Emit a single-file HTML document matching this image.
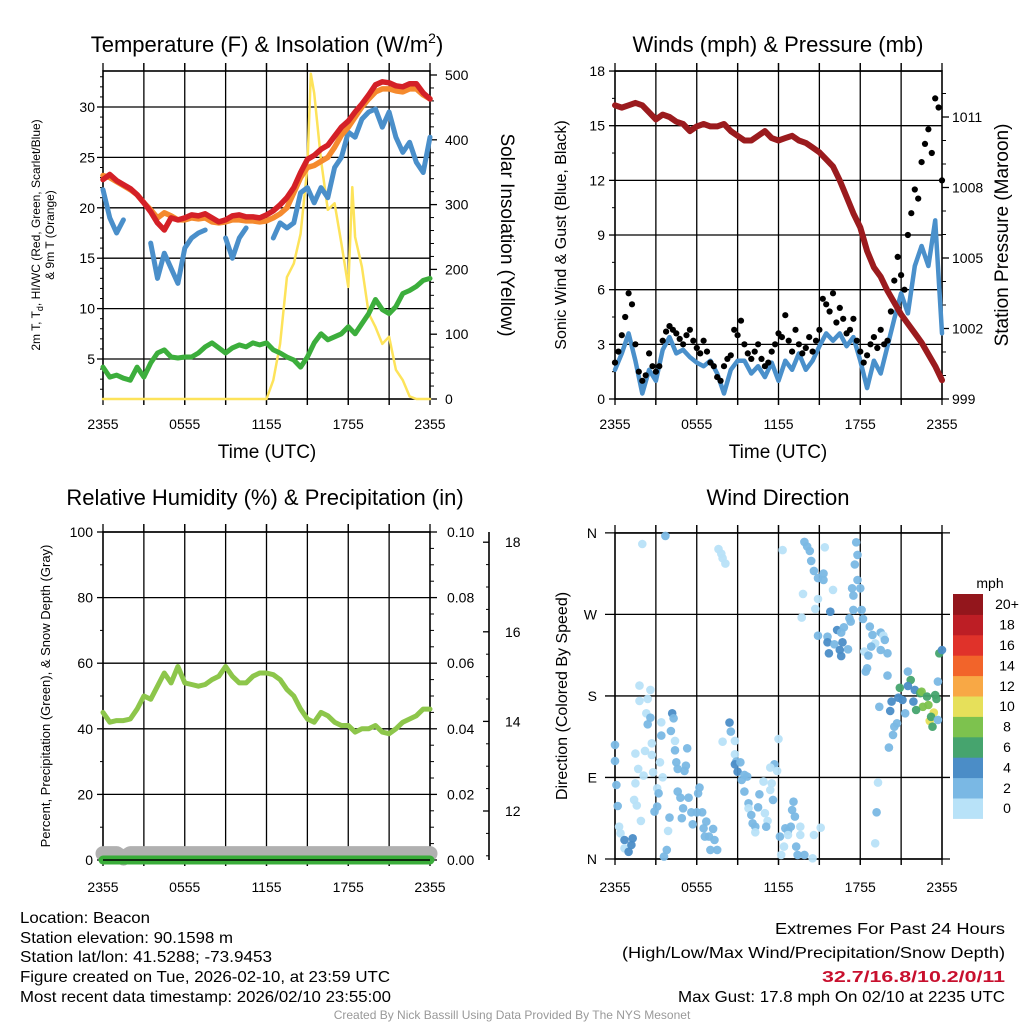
<!DOCTYPE html>
<html><head><meta charset="utf-8"><title>Mesonet Meteogram - Beacon</title>
<style>
html,body{margin:0;padding:0;background:#fff;}
svg{display:block;font-family:"Liberation Sans",Arial,sans-serif;}
</style></head>
<body>
<svg id="fig" width="1024" height="1024" viewBox="0 0 1024 1024" xmlns="http://www.w3.org/2000/svg">
<rect x="0" y="0" width="1024" height="1024" fill="#fff"/>
<!-- Titles -->
<text x="267" y="52" font-size="22" text-anchor="middle">Temperature (F) &amp; Insolation (W/m<tspan font-size="14" dy="-9">2</tspan><tspan dy="9">)</tspan></text>
<text x="778" y="52" font-size="22" text-anchor="middle">Winds (mph) &amp; Pressure (mb)</text>
<text x="265" y="505" font-size="22" text-anchor="middle">Relative Humidity (%) &amp; Precipitation (in)</text>
<text x="778" y="505" font-size="22" text-anchor="middle">Wind Direction</text>
<!-- Axis titles -->
<text transform="translate(40,235) rotate(-90)" font-size="12" text-anchor="middle">2m T, T<tspan font-size="9" dy="3">d</tspan><tspan dy="-3">, HI/WC (Red, Green, Scarlet/Blue)</tspan></text>
<text transform="translate(54,235) rotate(-90)" font-size="12" text-anchor="middle">&amp; 9m T (Orange)</text>
<text transform="translate(501,235) rotate(90)" font-size="19" text-anchor="middle">Solar Insolation (Yellow)</text>
<text x="267" y="458" font-size="19" text-anchor="middle">Time (UTC)</text>
<text transform="translate(566,235) rotate(-90)" font-size="16" text-anchor="middle">Sonic Wind &amp; Gust (Blue, Black)</text>
<text transform="translate(1008,235) rotate(-90)" font-size="19" text-anchor="middle">Station Pressure (Maroon)</text>
<text x="778" y="458" font-size="19" text-anchor="middle">Time (UTC)</text>
<text transform="translate(50,696) rotate(-90)" font-size="13" text-anchor="middle">Percent, Precipitation (Green), &amp; Snow Depth (Gray)</text>
<text transform="translate(567,696) rotate(-90)" font-size="16" text-anchor="middle">Direction (Colored By Speed)</text>
<!-- Footer text -->
<g font-size="16">
<text x="20" y="923" textLength="130" lengthAdjust="spacingAndGlyphs">Location: Beacon</text>
<text x="20" y="943" textLength="213" lengthAdjust="spacingAndGlyphs">Station elevation: 90.1598 m</text>
<text x="20" y="962" textLength="252" lengthAdjust="spacingAndGlyphs">Station lat/lon: 41.5288; -73.9453</text>
<text x="20" y="982" textLength="370" lengthAdjust="spacingAndGlyphs">Figure created on Tue, 2026-02-10, at 23:59 UTC</text>
<text x="20" y="1002" textLength="371" lengthAdjust="spacingAndGlyphs">Most recent data timestamp: 2026/02/10 23:55:00</text>
</g>
<g font-size="16" text-anchor="end">
<text x="1005" y="934" textLength="230" lengthAdjust="spacingAndGlyphs">Extremes For Past 24 Hours</text>
<text x="1005" y="958" textLength="383" lengthAdjust="spacingAndGlyphs">(High/Low/Max Wind/Precipitation/Snow Depth)</text>
<text x="1005" y="982" fill="#c8102e" font-weight="bold" textLength="183" lengthAdjust="spacingAndGlyphs">32.7/16.8/10.2/0/11</text>
<text x="1005" y="1002" textLength="327" lengthAdjust="spacingAndGlyphs">Max Gust: 17.8 mph On 02/10 at 2235 UTC</text>
</g>
<text x="512" y="1019" font-size="12" fill="#999" text-anchor="middle">Created By Nick Bassill Using Data Provided By The NYS Mesonet</text>
<g id="layer"></g>
</svg>
<script>
// ---------- DATA ----------
const hours = [0,0.5,1,1.5,2,2.5,3,3.5,4,4.5,5,5.5,6,6.5,7,7.5,8,8.5,9,9.5,10,10.5,11,11.5,12,12.5,13,13.5,14,14.5,15,15.5,16,16.5,17,17.5,18,18.5,19,19.5,20,20.5,21,21.5,22,22.5,23,23.5,24];
const timeTickLabels = ["2355","0555","1155","1755","2355"];
const tempRed = [22.8,23.3,22.7,22.3,21.9,21.3,20.5,19.6,18.5,17.8,19.0,18.8,19.0,19.3,19.2,19.4,19.0,18.6,18.8,19.2,19.3,19.1,19.1,19.0,19.3,19.7,20.3,21.0,22.0,23.5,24.8,25.2,25.8,26.2,27.1,28.0,28.6,29.5,30.3,31.2,32.2,32.5,32.4,32.1,32.0,32.3,32.3,31.4,30.8];
const tempOrange = [23.2,23.0,22.6,22.2,21.8,21.3,20.5,19.8,19.0,19.5,19.2,18.8,18.8,19.0,18.9,19.0,18.6,18.5,18.6,18.8,18.8,18.7,18.7,18.6,18.7,19.0,19.4,20.0,21.5,23.0,24.0,24.2,24.6,25.0,26.0,27.2,28.0,29.0,30.0,30.8,31.5,31.8,31.8,31.6,31.5,31.8,31.8,31.2,30.8];
const windChill = [21.8,19.0,17.5,18.8,null,null,null,16.5,13.0,15.5,14.0,12.5,16.0,17.0,17.5,17.8,null,null,17.0,15.0,17.0,18.0,null,null,null,17.0,18.5,18.0,18.5,21.5,22.0,20.5,22.0,21.0,24.0,25.0,27.5,27.0,28.8,29.5,29.8,28.0,29.5,27.0,25.5,26.5,24.5,23.5,27.0];
const dewPoint = [4.2,3.2,3.4,3.1,2.9,4.2,3.2,4.6,5.6,5.9,5.2,5.1,5.2,5.2,5.6,6.2,6.6,6.1,5.6,6.1,6.4,6.2,6.6,6.4,6.6,5.9,5.6,5.2,4.9,4.2,5.2,6.6,7.5,6.9,7.2,7.5,8.2,7.5,8.5,9.5,10.9,9.9,9.5,10.2,11.5,11.8,12.2,12.8,13.0];
const tempTicks = [5,10,15,20,25,30];
const solarHours = [0,12,12.5,13,13.5,14,14.5,15,15.25,15.5,16,16.5,17,17.5,18,18.3,18.5,19,19.5,20,20.5,21,21.5,22,22.5,23,24];
const solarVals = [0,0,29,85,188,209,255,358,502,472,369,292,302,240,173,327,250,204,132,111,85,96,45,29,4,0,0];
const solarTicks = [0,100,200,300,400,500];

const windSpeed = [1.6,2.5,3.6,2.1,0.3,1.6,1.0,2.7,3.4,2.5,2.7,2.3,2.0,1.8,2.1,1.4,0.3,1.6,2.1,2.1,1.4,1.8,1.2,2.0,1.0,2.1,1.6,2.5,1.6,2.1,2.9,3.6,3.2,3.6,2.9,3.4,2.1,0.6,2.1,1.4,2.9,4.4,5.8,4.7,7.3,8.4,7.3,9.8,3.6];
const gustHours = [0,0.25,0.5,0.75,1,1.25,1.5,1.75,2,2.25,2.5,2.75,3,3.25,3.5,3.75,4,4.25,4.5,4.75,5,5.25,5.5,5.75,6,6.25,6.5,6.75,7,7.25,7.5,7.75,8,8.25,8.5,8.75,9,9.25,9.5,9.75,10,10.25,10.5,10.75,11,11.25,11.5,11.75,12,12.25,12.5,12.75,13,13.25,13.5,13.75,14,14.25,14.5,14.75,15,15.25,15.5,15.75,16,16.25,16.5,16.75,17,17.25,17.5,17.75,18,18.25,18.5,18.75,19,19.25,19.5,19.75,20,20.25,20.5,20.75,21,21.25,21.5,21.75,22,22.25,22.5,22.75,23,23.25,23.5,23.75,24];
const gustVals = [2.0,2.6,3.5,4.5,5.8,5.2,3.0,1.5,1.0,1.3,2.5,1.8,1.5,1.8,3.2,3.7,4.0,3.8,3.6,3.3,3.0,3.5,3.8,3.2,2.8,2.5,3.2,2.6,2.0,1.8,1.2,1.0,1.8,2.2,2.4,3.8,3.5,4.3,3.0,2.5,2.2,2.6,3.0,2.2,1.8,2.0,2.6,3.0,3.6,3.4,4.6,3.2,2.6,3.8,3.0,2.5,2.8,3.4,2.6,3.2,3.8,5.5,5.2,4.8,5.8,4.2,5.0,4.4,3.6,3.8,4.4,3.2,2.6,2.0,2.4,3.0,3.4,2.8,3.8,3.0,3.2,4.8,6.5,7.8,6.8,6.0,9.0,10.2,11.5,11.0,13.0,14.0,14.8,13.5,16.5,16.0,12.0];
const pressure = [1011.5,1011.4,1011.5,1011.6,1011.5,1011.2,1010.9,1011.1,1011.0,1010.8,1010.7,1010.4,1010.6,1010.7,1010.6,1010.6,1010.7,1010.4,1010.2,1010.0,1010.0,1010.2,1010.4,1010.1,1010.0,1010.1,1010.2,1010.0,1009.9,1009.7,1009.5,1009.2,1008.9,1008.3,1007.6,1006.9,1006.3,1005.3,1004.6,1004.2,1003.6,1003.1,1002.6,1002.2,1001.8,1001.4,1000.9,1000.4,999.8];
const windTicks = [0,3,6,9,12,15,18];
const pressureTicks = [999,1002,1005,1008,1011];

const rhVals = [45,42,42.5,42.5,43,46,50,49,53,57,54,59,54,53.5,53,53.5,55,56,59,56,54,54,56,57,57,56.5,55,52,50,46,43,42,45,44,42,41,41,39,40,40,41,39,38.5,40,42,43,44,46,46];
const precipVals = [0,0,0,0,0,0,0,0,0,0,0,0,0,0,0,0,0,0,0,0,0,0,0,0,0,0,0,0,0,0,0,0,0,0,0,0,0,0,0,0,0,0,0,0,0,0,0,0,0];
const snowVals = [11.05,11.05,11.05,10.95,11.05,11.05,11.05,11.05,11.05,11.05,11.05,11.05,11.05,11.05,11.05,11.05,11.05,11.05,11.05,11.05,11.05,11.05,11.05,11.05,11.05,11.05,11.05,11.05,11.05,11.05,11.05,11.05,11.05,11.05,11.05,11.05,11.05,11.05,11.05,11.05,11.05,11.05,11.05,11.05,11.05,11.05,11.05,11.05,11.05];
const rhTicks = [0,20,40,60,80,100];
const precipTickLabels = ["0.00","0.02","0.04","0.06","0.08","0.10"];
const snowTicks = [12,14,16,18];

const dirHours = [2.0,3.7,7.6,7.8,7.9,8.1,12.3,13.9,14.1,14.3,14.4,14.6,14.9,15.4,15.3,15.3,16.0,14.9,14.7,13.8,13.7,17.7,17.8,17.6,17.8,18.0,17.4,17.5,15.8,17.5,17.2,17.3,18.2,18.1,16.3,16.8,16.6,15.6,14.9,15.6,16.1,16.7,17.1,16.5,15.7,16.6,18.7,18.9,19.1,18.8,19.5,19.7,19.8,19.5,20.0,18.3,18.6,18.5,18.4,20.0,21.5,21.7,20.9,21.5,20.8,20.3,21.1,21.9,22.0,22.4,22.5,22.9,22.6,23.0,22.1,23.5,23.6,23.7,23.8,24.0,23.4,23.1,23.2,23.3,23.7,21.3,19.4,20.2,20.5,20.4,20.1,20.7,19.3,19.2,19.1,1.8,2.6,1.8,2.4,2.3,2.6,2.4,3.4,4.2,4.3,4.1,3.4,4.4,4.4,2.7,2.2,1.5,2.7,3.3,1.7,2.1,2.8,3.5,4.5,4.6,5.2,5.3,5.1,1.5,3.1,3.2,4.6,4.8,5.4,6.1,6.2,5.0,5.6,6.0,4.9,5.7,6.4,6.7,6.5,7.2,6.9,6.6,7.3,7.5,7.0,4.0,3.9,3.8,3.6,3.1,2.9,1.4,1.6,1.9,0.3,0.4,0.2,0.1,0.0,0.0,0.7,0.7,1.2,1.0,1.3,8.4,8.5,7.9,8.8,8.8,8.9,8.8,9.2,9.0,9.5,9.7,9.3,9.5,9.8,9.8,10.0,10.1,10.3,10.5,10.6,10.9,11.5,11.4,11.6,11.0,11.2,11.1,10.3,11.7,11.9,11.4,12.0,12.1,12.5,12.7,12.9,13.1,13.0,13.2,12.7,13.3,13.6,13.6,13.9,14.5,13.4,12.4,12.2,14.6,15.1];
const dirVals = [347.7,356.6,342,337,332,326,341,350,345,340,329,318,310,344,315,308,297,287,276,292.6,266.4,349.6,335.6,325,308,298.8,298.8,290.7,273,275,265.7,262,265,275,252.8,255.7,249.9,245.4,246.5,239.2,237,239.2,231.5,230.7,227,224,256.5,247.3,238,234.4,250,246.5,241.8,230.7,227,229,224.5,210.5,206.8,202.4,206.8,197.6,189,191,178,173.7,175.5,173.7,186.6,183,184.7,179.2,168,170,164.5,181,176.6,195.8,227,230.7,161.6,152.4,157,146,153.5,160.8,168,163.4,146,137,123,149.8,84.3,51.6,17.3,191.4,186.6,174.5,176.7,160.8,156,148.7,150.9,160.8,155.3,141.3,136.2,130.3,120,127.7,119.3,116.3,114.9,106.7,99.4,92,95.7,90.2,106.7,99.4,103,122.2,97.2,83.6,78,72.5,74.4,67.7,67.7,72.5,78.8,56,51.6,51.6,45,38.3,51.6,41.3,33.9,33.2,24.7,24.7,21,10,10,45.7,31,10,2.6,57.8,52.3,65.2,59,42,35.7,28.4,58.5,81.7,108.2,125.9,21,11.8,15.5,8,22.9,150.5,140.6,129.5,130.3,115.6,107.5,104.5,106.7,96.4,92.8,91,87.2,74.4,61.5,56,48.6,39.4,35.7,57.1,71.4,85.4,83.6,76.2,65.2,50.5,42,35.7,29.5,104.5,97.2,100.9,132.5,24.7,33.9,31,35.7,63.3,54.1,46.8,26.5,13.7,35.7,26.5,4.5,0.8,4.5,13.7,4.5,26.5,34.6];
const dirSpeeds = [1,3,1,1,1,1,1,3,3,3,3,3,3,1,3,3,1,1,1,1,1,3,3,3,3,3,3,3,5,3,3,3,3,3,5,3,3,3,3,5,3,5,3,5,5,5,3,3,1,3,3,1,3,3,3,1,3,3,3,3,3,7,7,5,5,5,5,5,5,7,9,7,9,9,7,7,7,3,7,5,11,11,7,7,3,3,3,5,3,3,3,3,1,3,1,1,1,1,1,1,3,3,1,5,3,3,3,1,3,1,1,1,1,1,1,1,1,1,3,3,3,3,3,1,1,3,3,3,3,3,3,3,3,3,3,3,3,3,3,3,3,3,3,3,3,3,1,3,3,3,3,1,1,1,1,1,3,3,3,3,5,1,5,5,5,5,3,1,1,1,3,5,3,5,3,3,3,3,3,1,3,3,3,3,3,1,1,1,3,1,1,3,1,3,1,1,1,3,3,3,3,3,3,3,1,3,1,1,3,1,3,1,1,1,1,1];
const dirTickLabels = ["N","E","S","W","N"];
const dirTicks = [0,90,180,270,360];
const speedBins = ["0","2","4","6","8","10","12","14","16","18","20+"];
const speedColors = ["#b8e2f8","#7ab8e4","#4b8dc7","#46a46e","#7dc24e","#e6e05a","#f8a845","#f2642a","#e0322a","#bd1e25","#93161c"];

// ---------- HELPERS ----------
const NS = "http://www.w3.org/2000/svg";
const layer = document.getElementById("layer");
function el(tag, parent) { const e = document.createElementNS(NS, tag); (parent || layer).appendChild(e); return e; }
function line(x1,y1,x2,y2,stroke,w,parent){ const l = el("line",parent); l.setAttribute("x1",x1); l.setAttribute("y1",y1); l.setAttribute("x2",x2); l.setAttribute("y2",y2); l.setAttribute("stroke",stroke); l.setAttribute("stroke-width",w); return l; }
function txt(x,y,s,size,anchor,parent){ const t = el("text",parent); t.setAttribute("x",x); t.setAttribute("y",y); t.setAttribute("font-size",size); t.setAttribute("text-anchor",anchor); t.textContent = s; return t; }
function pathD(xs, ys, xf, yf){ let d=""; let pen=false; for(let i=0;i<xs.length;i++){ if(ys[i]===null){pen=false;continue;} d += (pen?"L":"M") + xf(xs[i]).toFixed(1) + "," + yf(ys[i]).toFixed(1); pen=true; } return d; }
function series(xs, ys, xf, yf, color, w, parent){ const p = el("path",parent); p.setAttribute("d", pathD(xs,ys,xf,yf)); p.setAttribute("fill","none"); p.setAttribute("stroke",color); p.setAttribute("stroke-width",w); p.setAttribute("stroke-linejoin","round"); p.setAttribute("stroke-linecap","round"); return p; }

function frame(x0,y0,x1,y1,parent){
  for(let k=1;k<8;k++){ const x = x0 + (x1-x0)*k/8; const g = line(x,y0-8,x,y1+6,"#000",1.3,parent);   }
  const r = el("rect",parent); r.setAttribute("x",x0); r.setAttribute("y",y0); r.setAttribute("width",x1-x0); r.setAttribute("height",y1-y0); r.setAttribute("fill","none"); r.setAttribute("stroke","#000"); r.setAttribute("stroke-width",1.6);
  
  
  for(let k=0;k<=8;k++){ const x = x0 + (x1-x0)*k/8; line(x,y1,x,y1+6,"#000",1.3,parent); line(x,y0,x,y0-8,"#000",1.3,parent); }
}
function xLabels(x0,x1,y,parent){
  timeTickLabels.forEach((s,i)=>{ const t = txt(x0+(x1-x0)*i/4, y, s, 14, "middle", parent);
    
     });
}

// ---------- PANEL 1: Temperature ----------
const p1 = el("g"); 


const P1 = {x0:103,x1:430,y0:71,y1:399};
const x1f = h => P1.x0 + h*(P1.x1-P1.x0)/24;
const yTf = v => 359 - (v-5)*10.08;
const ySf = w => 399 - w*0.648;
frame(P1.x0,P1.y0,P1.x1,P1.y1,p1);
tempTicks.forEach(v=>{ const y=yTf(v); const g=line(P1.x0,y,P1.x1,y,"#000",1.3,p1);   line(P1.x0-6,y,P1.x0,y,"#000",1.3,p1);
  const t=txt(P1.x0-8,y+5,String(v),14,"end",p1);   });
solarTicks.forEach(v=>{ const y=ySf(v); line(P1.x1,y,P1.x1+7,y,"#000",1.3,p1);
  const t=txt(P1.x1+15,y+5,String(v),14,"start",p1);   });
for(let v=2;v<34;v++){ if(v%5){ line(P1.x0-3,yTf(v),P1.x0,yTf(v),"#000",1,p1);} }
for(let v=20;v<500;v+=20){ if(v%100){ line(P1.x1,ySf(v),P1.x1+4,ySf(v),"#000",1,p1);} }
xLabels(P1.x0,P1.x1,429,p1);
let s;
s = series(solarHours, solarVals, x1f, ySf, "#fde35a", 2.5, p1);


s = series(hours, dewPoint, x1f, yTf, "#3cae3c", 5, p1);


s = series(hours, windChill, x1f, yTf, "#4a8fca", 5, p1);


s = series(hours, tempOrange, x1f, yTf, "#f58a2e", 5.5, p1);


s = series(hours, tempRed, x1f, yTf, "#d42027", 5.5, p1);



// ---------- PANEL 2: Winds ----------
const p2 = el("g");


const P2 = {x0:615,x1:942,y0:71,y1:399};
const x2f = h => P2.x0 + h*(P2.x1-P2.x0)/24;
const yWf = v => 399 - v*18.22;
const yPf = p => 399 - (p-999)*23.5;
frame(P2.x0,P2.y0,P2.x1,P2.y1,p2);
windTicks.forEach(v=>{ const y=yWf(v); const g=line(P2.x0,y,P2.x1,y,"#000",1.3,p2);   line(P2.x0-6,y,P2.x0,y,"#000",1.3,p2);
  const t=txt(P2.x0-10,y+5,String(v),14,"end",p2);   });
pressureTicks.forEach(v=>{ const y=yPf(v); line(P2.x1,y,P2.x1+7,y,"#000",1.3,p2);
  const t=txt(P2.x1+10,y+5,String(v),14,"start",p2);   });
for(let v=1.5;v<18;v+=3){ line(P2.x0-3,yWf(v),P2.x0,yWf(v),"#000",1,p2); }
for(let v=1000;v<1012.5;v+=1){ if((v-999)%3){ line(P2.x1,yPf(v),P2.x1+4,yPf(v),"#000",1,p2);} }
xLabels(P2.x0,P2.x1,429,p2);
s = series(hours, windSpeed, x2f, yWf, "#4a90cb", 4.5, p2);


gustHours.forEach((h,i)=>{ const c = el("circle",p2); c.setAttribute("cx",x2f(h).toFixed(1)); c.setAttribute("cy",yWf(gustVals[i]).toFixed(1)); c.setAttribute("r",3.1); c.setAttribute("fill","#000");
  
   });
s = series(hours, pressure, x2f, yPf, "#9b1b1e", 6, p2);



// ---------- PANEL 3: Humidity ----------
const p3 = el("g");


const P3 = {x0:103,x1:430,y0:532,y1:860};
const x3f = h => P3.x0 + h*(P3.x1-P3.x0)/24;
const yRf = v => 860 - v*3.28;
const yPrf = v => 860 - v*3280;
const ySnf = v => 811 - (v-12)*44.8;
frame(P3.x0,P3.y0,P3.x1,P3.y1,p3);
rhTicks.forEach((v,i)=>{ const y=yRf(v); const g=line(P3.x0,y,P3.x1,y,"#000",1.3,p3);   line(P3.x0-6,y,P3.x0,y,"#000",1.3,p3); line(P3.x1,y,P3.x1+7,y,"#000",1.3,p3);
  const t=txt(P3.x0-10,y+5,String(v),14,"end",p3);  
  const t2=txt(P3.x1+17,y+5,precipTickLabels[i],14,"start",p3);   });
for(let v=10;v<100;v+=20){ line(P3.x0-3,yRf(v),P3.x0,yRf(v),"#000",1,p3); }
for(let v=5;v<100;v+=5){ if(v%20){ line(P3.x1,yRf(v),P3.x1+4,yRf(v),"#000",1,p3);} }
const snowAxis = line(489,532,489,860,"#000",1.6,p3);


snowTicks.forEach(v=>{ const y=ySnf(v); line(483,y,489,y,"#000",1.3,p3);
  const t=txt(505,y+5,String(v),14,"start",p3);   });
for(let v=11;v<=18;v+=0.5){ if(v%2){ line(486,ySnf(v),489,ySnf(v),"#000",1,p3);} }
xLabels(P3.x0,P3.x1,892,p3);
s = series(hours, snowVals, x3f, ySnf, "#b0b0b0", 15, p3);


s = series(hours, precipVals, x3f, yPrf, "#3aad3a", 9, p3);


line(P3.x0,P3.y1,P3.x1,P3.y1,"#000",1.6,p3);
s = series(hours, rhVals, x3f, yRf, "#8dc64b", 5, p3);



// ---------- PANEL 4: Wind direction ----------
const p4 = el("g");


const P4 = {x0:615,x1:942,y0:533,y1:859};
const x4f = h => P4.x0 + h*(P4.x1-P4.x0)/24;
const yDf = d => 859 - d*0.906;
frame(P4.x0,P4.y0,P4.x1,P4.y1,p4);
dirTicks.forEach((v,i)=>{ const y=yDf(v); const g=line(P4.x0-10,y,P4.x1+8,y,"#000",1.3,p4);  
  const t=txt(P4.x0-18,y+5,dirTickLabels[i],14,"end",p4);   });
xLabels(P4.x0,P4.x1,892,p4);
dirHours.forEach((h,i)=>{ const c = el("circle",p4); const bin = Math.min(10, Math.floor(dirSpeeds[i]/2));
  c.setAttribute("cx",x4f(h).toFixed(1)); c.setAttribute("cy",yDf(dirVals[i]).toFixed(1)); c.setAttribute("r",4.3); c.setAttribute("fill",speedColors[bin]); c.setAttribute("fill-opacity","0.95");
  
   });

// colorbar
const cb = el("g");


const cbTop = 594, cbH = 20.4;
const mph = txt(990,588,"mph",14,"middle",cb);


speedBins.forEach((lab,i)=>{ const k = speedBins.length-1-i; const r = el("rect",cb);
  r.setAttribute("x",953); r.setAttribute("y",cbTop + k*cbH); r.setAttribute("width",30); r.setAttribute("height",cbH+0.5); r.setAttribute("fill",speedColors[i]);
  
  
  const t = txt(1007, cbTop + k*cbH + cbH/2 + 5, lab, 14, "middle", cb);
  
   });
</script>
</body></html>
